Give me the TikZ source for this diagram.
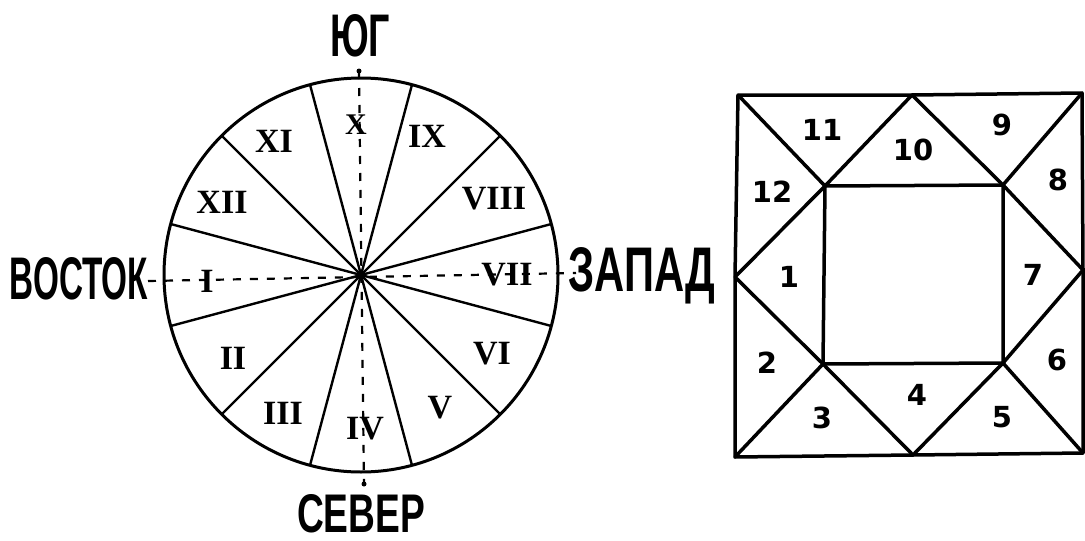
\documentclass[tikz,border=0pt]{standalone}
\usepackage{fontspec}
\setmainfont{Liberation Serif}
\newfontfamily\capfont{Liberation Sans}
\newfontfamily\numfont{DejaVu Sans}
\usetikzlibrary{calc}
\tikzset{
  roman/.style={font=\fontsize{34}{34}\selectfont\bfseries, inner sep=0pt},
  num/.style={font=\numfont\fontsize{29}{29}\selectfont\bfseries, inner sep=0pt},
  dirlabel/.style={inner sep=0pt},
  spoke/.style={line width=2.4pt},
  rim/.style={line width=3pt},
  axis/.style={line width=2.2pt, dash pattern=on 8pt off 9pt},
  boxline/.style={line width=3.5pt, line join=round, line cap=round},
}
\newcommand\dirtext[3]{\resizebox{#1pt}{#2pt}{\capfont\bfseries #3}}
\begin{document}
\begin{tikzpicture}[x=1pt,y=-1pt]
\useasboundingbox (0,0) rectangle (1085,541);
% ---- wheel ----
\coordinate (c) at (361,275);
\foreach \a in {15,45,...,345} \draw[spoke] (c) -- ++(\a:197);
\draw[rim] (c) circle (197pt);
% axes
\coordinate (axT) at (359,71);
\coordinate (axB) at (364,484);
\coordinate (axL) at (148,281);
\coordinate (axR) at (576,273);
\draw[axis] (axT) -- (axB);
\draw[axis] (axL) -- (axR);
\fill (axT) circle (2.5pt);
\fill (axB) circle (2.5pt);
% roman numerals
\node[roman] (rX) at (356,125) {\fontsize{30}{30}\selectfont X};
\node[roman] (rIX) at (427,136) {IX};
\node[roman] (rVIII) at (494,199) {VIII};
\node[roman] (rVII) at (507,275) {VII};
\node[roman] (rVI) at (492,354) {VI};
\node[roman] (rV) at (440,408) {V};
\node[roman] (rIV) at (365,429) {IV};
\node[roman] (rIII) at (283,413) {III};
\node[roman] (rII) at (233,358) {II};
\node[roman] (rI) at (207,281) {I};
\node[roman] (rXII) at (222,202) {XII};
\node[roman] (rXI) at (274,141) {XI};
% directions
\node[dirlabel] (south) at (360,36) {\dirtext{60}{42}{ЮГ}};
\node[dirlabel] (east) at (79,279) {\dirtext{138}{42}{ВОСТОК}};
\node[dirlabel] (west) at (642,276) {\dirtext{147}{44}{ЗАПАД}};
\node[dirlabel] (north) at (361,514) {\dirtext{128}{38}{СЕВЕР}};
% ---- square chart ----
\coordinate (oTL) at (738,95);
\coordinate (oTR) at (1082,93);
\coordinate (oBR) at (1083,453);
\coordinate (oBL) at (735,457);
\coordinate (mT) at (912,95);
\coordinate (mR) at (1083,270);
\coordinate (mB) at (913,455);
\coordinate (mL) at (735,277);
\coordinate (iTL) at (825,186);
\coordinate (iTR) at (1003,185);
\coordinate (iBR) at (1003,363);
\coordinate (iBL) at (823,364);
\draw[boxline] (oTL) -- (mT) -- (oTR) -- (mR) -- (oBR) -- (mB) -- (oBL) -- (mL) -- cycle;
\draw[boxline] (iTL) -- (iTR) -- (iBR) -- (iBL) -- cycle;
\draw[boxline] (oTL) -- (iTL) -- (mT) -- (iTR) -- (oTR);
\draw[boxline] (mL) -- (iTL);
\draw[boxline] (mL) -- (iBL) -- (oBL);
\draw[boxline] (iBL) -- (mB) -- (iBR) -- (oBR);
\draw[boxline] (iBR) -- (mR) -- (iTR);
% house numbers
\node[num] (h11) at (822,130) {11};
\node[num] (h10) at (913,150) {10};
\node[num] (h9) at (1002,125) {9};
\node[num] (h8) at (1058,180) {8};
\node[num] (h12) at (772,192) {12};
\node[num] (h1) at (789,277) {1};
\node[num] (h7) at (1033,275) {7};
\node[num] (h2) at (767,363) {2};
\node[num] (h6) at (1057,360) {6};
\node[num] (h3) at (822,418) {3};
\node[num] (h4) at (917,395) {4};
\node[num] (h5) at (1002,417) {5};
\end{tikzpicture}
\end{document}
